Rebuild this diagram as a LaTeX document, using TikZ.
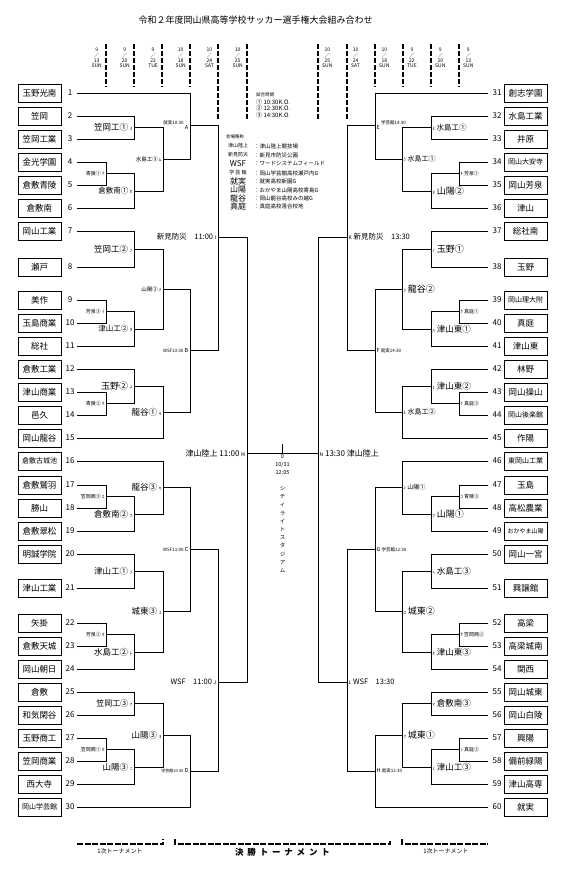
\documentclass[tikz,border=0pt]{standalone}
\usepackage{fontspec}
\setmainfont{Noto Sans CJK JP}
\newfontfamily\widefont[LetterSpace=45]{Noto Sans CJK JP}
\usetikzlibrary{positioning}

\newcommand\fsz[1]{\fontsize{#1}{#1}\selectfont}
\newcommand\mlet[1]{{\fsz{4.5}#1}}

\tikzset{
  team/.style={draw, line width=1pt, minimum width=43pt, minimum height=18pt, inner sep=0pt, font=\fsz{8.5}},
  num/.style={inner sep=0pt, font=\fsz{8}},
  bl/.style={line width=0.9pt},
  hdash/.style={line width=1.3pt, dash pattern=on 5pt off 2pt},
  bdash/.style={line width=1.2pt, dash pattern=on 6pt off 1.5pt},
  date/.style={inner sep=0pt, align=center, font=\fontsize{5}{5.3}\selectfont},
  labl/.style={anchor=east, inner sep=1.5pt},
  labr/.style={anchor=west, inner sep=1.5pt},
}

\begin{document}
\begin{tikzpicture}[x=1pt, y=-1pt]
\useasboundingbox (0,0) rectangle (575,875);

% Title
\node[font=\fsz{9}] (title) at (255.5,20) {令和２年度岡山県高等学校サッカー選手権大会組み合わせ};

% Date columns
\foreach \xx/\ye/\dt in {106/87/{9\\／\\13\\SUN}, 134/87/{9\\／\\20\\SUN}, 162/87/{9\\／\\22\\TUE},
    190/87/{10\\／\\18\\SUN}, 218/119/{10\\／\\24\\SAT}, 247/119/{10\\／\\25\\SUN}}{
  \draw[hdash] (\xx,44) -- (\xx,\ye);
  \node[date, anchor=east] (dl\xx) at (\xx-4,58) {\dt};
}
\foreach \xx/\ye/\dt in {318/119/{10\\／\\25\\SUN}, 347/119/{10\\／\\24\\SAT}, 375/87/{10\\／\\18\\SUN},
    403/87/{9\\／\\22\\TUE}, 431/87/{9\\／\\20\\SUN}, 459/87/{9\\／\\13\\SUN}}{
  \draw[hdash] (\xx,44) -- (\xx,\ye);
  \node[date, anchor=west] (dr\xx) at (\xx+4,58) {\dt};
}

% Teams, left
\foreach \n/\s/\y in {1/玉野光南/93, 2/笠岡/116, 3/笠岡工業/139, 4/金光学園/162, 5/倉敷青陵/185,
    6/倉敷南/208, 7/岡山工業/231, 8/瀬戸/267, 9/美作/300, 10/玉島商業/323, 11/総社/346,
    12/倉敷工業/369, 13/津山商業/392, 14/邑久/415, 15/岡山龍谷/438, 16/{\fsz{7}倉敷古城池}/461,
    17/倉敷鷲羽/485, 18/勝山/508, 19/倉敷翠松/531, 20/明誠学院/554, 21/津山工業/588,
    22/矢掛/623, 23/倉敷天城/646, 24/岡山朝日/669, 25/倉敷/692, 26/和気閑谷/715,
    27/玉野商工/738, 28/笠岡商業/761, 29/西大寺/784, 30/{\fsz{7}岡山学芸館}/807}{
  \node[team] (tb\n) at (39.5,\y) {\s};
  \node[num] (tn\n) at (70,\y) {\n};
  \coordinate (t\n) at (77,\y);
}

% Teams, right
\foreach \n/\s/\y in {31/創志学園/93, 32/水島工業/116, 33/井原/139, 34/{\fsz{7}岡山大安寺}/162,
    35/岡山芳泉/185, 36/津山/208, 37/総社南/231, 38/玉野/267, 39/{\fsz{7}岡山理大附}/300,
    40/真庭/323, 41/津山東/346, 42/林野/369, 43/岡山操山/392, 44/{\fsz{7}岡山後楽館}/415,
    45/作陽/438, 46/{\fsz{7}東岡山工業}/461, 47/玉島/485, 48/高松農業/508,
    49/{\fsz{6}おかやま山陽}/531, 50/岡山一宮/554, 51/興譲館/588, 52/高梁/623,
    53/高梁城南/646, 54/関西/669, 55/岡山城東/692, 56/岡山白陵/715, 57/興陽/738,
    58/備前緑陽/761, 59/津山高専/784, 60/就実/807}{
  \node[team] (tb\n) at (525.5,\y) {\s};
  \node[num] (tn\n) at (497,\y) {\n};
  \coordinate (t\n) at (488,\y);
}

% Match points, left
\coordinate (l1a) at (106,173.5);
\coordinate (l1b) at (106,311.5);
\coordinate (l1c) at (106,403.5);
\coordinate (l1d) at (106,496.5);
\coordinate (l1e) at (106,634.5);
\coordinate (l1f) at (106,749.5);
\coordinate (l2a) at (134,127.5);
\coordinate (l2b) at (134,191);
\coordinate (l2c) at (134,249);
\coordinate (l2d) at (134,329);
\coordinate (l2e) at (134,386);
\coordinate (l2f) at (134,514);
\coordinate (l2g) at (134,571);
\coordinate (l2h) at (134,652);
\coordinate (l2i) at (134,703.5);
\coordinate (l2j) at (134,767);
\coordinate (l3a) at (163,159);
\coordinate (l3b) at (163,289);
\coordinate (l3c) at (163,412);
\coordinate (l3d) at (163,487.5);
\coordinate (l3e) at (163,611.5);
\coordinate (l3f) at (163,735);
\coordinate (qA) at (190,125);
\coordinate (qB) at (190,350.5);
\coordinate (qC) at (190,549.5);
\coordinate (qD) at (190,771);
\coordinate (sI) at (218,237);
\coordinate (sJ) at (218,682);
\coordinate (fM) at (247,453);

% Match points, right
\coordinate (r1a) at (459,173.5);
\coordinate (r1b) at (459,311.5);
\coordinate (r1c) at (459,403.5);
\coordinate (r1d) at (459,496.5);
\coordinate (r1e) at (459,634.5);
\coordinate (r1f) at (459,749.5);
\coordinate (r2a) at (431,127.5);
\coordinate (r2b) at (431,191);
\coordinate (r2c) at (431,249);
\coordinate (r2d) at (431,329);
\coordinate (r2e) at (431,386);
\coordinate (r2f) at (431,514);
\coordinate (r2g) at (431,571);
\coordinate (r2h) at (431,652);
\coordinate (r2i) at (431,703.5);
\coordinate (r2j) at (431,767);
\coordinate (r3a) at (402,159);
\coordinate (r3b) at (402,289);
\coordinate (r3c) at (402,412);
\coordinate (r3d) at (402,487.5);
\coordinate (r3e) at (402,611.5);
\coordinate (r3f) at (402,735);
\coordinate (qE) at (375,125);
\coordinate (qF) at (375,350.5);
\coordinate (qG) at (375,549.5);
\coordinate (qH) at (375,771);
\coordinate (sK) at (347,237);
\coordinate (sL) at (347,682);
\coordinate (fN) at (318,453);

% Final
\coordinate (fin) at (282.5,453);
\coordinate (fintop) at (282.5,444);

% Bracket lines
\foreach \p/\q in {t4/l1a, t5/l1a, t9/l1b, t10/l1b, t13/l1c, t14/l1c, t17/l1d, t18/l1d,
    t22/l1e, t23/l1e, t27/l1f, t28/l1f,
    t2/l2a, t3/l2a, l1a/l2b, t6/l2b, t7/l2c, t8/l2c, l1b/l2d, t11/l2d, t12/l2e, l1c/l2e,
    l1d/l2f, t19/l2f, t20/l2g, t21/l2g, l1e/l2h, t24/l2h, t25/l2i, t26/l2i, l1f/l2j, t29/l2j,
    l2a/l3a, l2b/l3a, l2c/l3b, l2d/l3b, l2e/l3c, t15/l3c, t16/l3d, l2f/l3d, l2g/l3e, l2h/l3e,
    l2i/l3f, l2j/l3f,
    t1/qA, l3a/qA, l3b/qB, l3c/qB, l3d/qC, l3e/qC, l3f/qD, t30/qD,
    qA/sI, qB/sI, qC/sJ, qD/sJ, sI/fM, sJ/fM, fM/fin}{
  \draw[bl] (\p) -| (\q);
}
\foreach \p/\q in {t34/r1a, t35/r1a, t39/r1b, t40/r1b, t43/r1c, t44/r1c, t47/r1d, t48/r1d,
    t52/r1e, t53/r1e, t57/r1f, t58/r1f,
    t32/r2a, t33/r2a, r1a/r2b, t36/r2b, t37/r2c, t38/r2c, r1b/r2d, t41/r2d, t42/r2e, r1c/r2e,
    r1d/r2f, t49/r2f, t50/r2g, t51/r2g, r1e/r2h, t54/r2h, t55/r2i, t56/r2i, r1f/r2j, t59/r2j,
    r2a/r3a, r2b/r3a, r2c/r3b, r2d/r3b, r2e/r3c, t45/r3c, t46/r3d, r2f/r3d, r2g/r3e, r2h/r3e,
    r2i/r3f, r2j/r3f,
    t31/qE, r3a/qE, r3b/qF, r3c/qF, r3d/qG, r3e/qG, r3f/qH, t60/qH,
    qE/sK, qF/sK, qG/sL, qH/sL, sK/fN, sL/fN, fN/fin}{
  \draw[bl] (\p) -| (\q);
}
\draw[bl] (fin) -- (fintop);

% Match labels, left
\foreach \m/\s/\k in {l1a/青陵①/ｱ, l1b/芳泉③/ｲ, l1c/青陵②/ｳ, l1d/笠岡商③/ｴ, l1e/芳泉②/ｵ, l1f/笠岡商①/ｶ}{
  \node[labl, font=\fsz{5}] (n\m) at (\m) {\s\ \mlet{\k}};
}
\foreach \m/\f/\s/\k in {l2a/8.5/笠岡工①/ｽ, l2b/7.5/倉敷南①/ｾ, l2c/8.5/笠岡工②/ｿ, l2d/7.5/津山工②/ﾀ,
    l2e/9/玉野②/ﾁ, l2f/8.5/倉敷南②/ﾂ, l2g/8.5/津山工①/ﾃ, l2h/8.5/水島工②/ﾄ, l2i/8/笠岡工③/ﾅ,
    l2j/8.5/山陽③/ﾆ, l3a/5.5/水島工③/ﾑ, l3b/5.5/山陽②/ﾒ, l3c/8.5/龍谷①/ﾓ, l3d/8.5/龍谷③/ﾔ,
    l3e/8.5/城東③/ﾕ, l3f/8.5/山陽③/ﾖ}{
  \node[labl, font=\fsz{\f}] (n\m) at (\m) {\s\ \mlet{\k}};
}
\node[labl, font=\fsz{5.5}] (nqA) at (qA) {\raisebox{5pt}{\fsz{4.5}就実10:30} A};
\node[labl, font=\fsz{5.5}] (nqB) at (qB) {{\fsz{4.5}WSF13:30} B};
\node[labl, font=\fsz{5.5}] (nqC) at (qC) {{\fsz{4.5}WSF11:00} C};
\node[labl, font=\fsz{5.5}] (nqD) at (qD) {{\fsz{4}学芸館10:30} D};
\node[labl, font=\fsz{7.5}] (nsI) at (sI) {新見防災\quad 11:00 {\fsz{5}I}};
\node[labl, font=\fsz{7.5}] (nsJ) at (sJ) {WSF\quad 11:00 {\fsz{5}J}};
\node[labl, font=\fsz{8}] (nfM) at (fM) {津山陸上\ 11:00 {\fsz{5}M}};

% Match labels, right
\foreach \m/\s/\k in {r1a/芳泉①/ｷ, r1b/真庭①/ｸ, r1c/真庭③/ｹ, r1d/青陵③/ｺ, r1e/笠岡商②/ｻ, r1f/真庭②/ｼ}{
  \node[labr, font=\fsz{5}] (n\m) at (\m) {\mlet{\k}\ \s};
}
\foreach \m/\f/\s/\k in {r2a/7.5/水島工①/ﾇ, r2b/9/山陽②/ﾈ, r2c/9/玉野①/ﾉ, r2d/8.5/津山東①/ﾊ,
    r2e/8.5/津山東②/ﾋ, r2f/9/山陽①/ﾌ, r2g/8.5/水島工③/ﾍ, r2h/8.5/津山東③/ﾎ, r2i/8.5/倉敷南③/ﾏ,
    r2j/8.5/津山工③/ﾐ, r3a/7/水島工①/ﾗ, r3b/9/龍谷②/ﾘ, r3c/7/水島工②/ﾙ, r3d/6/山陽①/ﾚ,
    r3e/9/城東②/ﾛ, r3f/9/城東①/ﾜ}{
  \node[labr, font=\fsz{\f}] (n\m) at (\m) {\mlet{\k}\ \s};
}
\node[labr, font=\fsz{5.5}] (nqE) at (qE) {E \raisebox{5pt}{\fsz{4.5}学芸館14:30}};
\node[labr, font=\fsz{5.5}] (nqF) at (qF) {F {\fsz{4.5}就実14:30}};
\node[labr, font=\fsz{5.5}] (nqG) at (qG) {G {\fsz{4.5}学芸館12:30}};
\node[labr, font=\fsz{5.5}] (nqH) at (qH) {H {\fsz{4.5}就実12:30}};
\node[labr, font=\fsz{7.5}] (nsK) at (sK) {{\fsz{5}K} 新見防災\quad 13:30};
\node[labr, font=\fsz{7.5}] (nsL) at (sL) {{\fsz{5}L} WSF\quad 13:30};
\node[labr, font=\fsz{8}] (nfN) at (fN) {{\fsz{5}N} 13:30\ 津山陸上};

% Final
\node[anchor=north, inner sep=0pt, align=center, font=\fontsize{5.5}{8}\selectfont] (finlab) at (282.5,454) {0\\10/31\\12:05};
\node[anchor=north, inner sep=0pt, align=center, font=\fontsize{5.5}{8.2}\selectfont] (stad) at (282.5,486)
  {シ\\テ\\ィ\\ラ\\イ\\ト\\ス\\タ\\ジ\\ア\\ム};

% Match times and venues
\node[anchor=west, inner sep=0pt, font=\fsz{4.5}] (lgt) at (256,95) {試合時間};
\node[anchor=west, inner sep=0pt, font=\fsz{6}] (lgt1) at (256,102) {① 10:30K.O.};
\node[anchor=west, inner sep=0pt, font=\fsz{6}] (lgt2) at (256,108.5) {② 12:30K.O.};
\node[anchor=west, inner sep=0pt, font=\fsz{6}] (lgt3) at (256,115) {③ 14:30K.O.};
\node[anchor=west, inner sep=0pt, font=\fsz{4.5}] (lgv) at (226,137) {会場略称};
\foreach \yy/\ab/\nm in {146/{\fsz{5}津山陸上}/津山陸上競技場, 155/{\fsz{5}新見防災}/新見市防災公園,
    164/{\fsz{8}WSF}/ワードシステムフィールド, 173/{\fsz{5}学 芸 館}/岡山学芸館高校瀬戸内G,
    181/{\fsz{8}就実}/就実高校新園G, 190/{\fsz{8}山陽}/おかやま山陽高校寄島G,
    198/{\fsz{8}龍谷}/岡山龍谷高校みの越G, 206/{\fsz{8}真庭}/真庭高校落合校地}{
  \node[inner sep=0pt] (va\yy) at (238,\yy) {\ab};
  \node[anchor=west, inner sep=0pt, font=\fsz{5.5}] (vn\yy) at (254,\yy) {：\nm};
}

% Tournament stages
\draw[bdash] (77,844) -- (163,844) -- (163,839);
\node[font=\fsz{6}] (st1) at (120,851) {1次トーナメント};
\draw[bdash] (175,839) -- (175,844) -- (390,844) -- (390,839);
\node[font=\widefont\bfseries\fsz{8.5}] (st2) at (282.5,852) {決勝トーナメント};
\draw[bdash] (402,839) -- (402,844) -- (488,844);
\node[font=\fsz{6}] (st3) at (446,851) {1次トーナメント};

\end{tikzpicture}
\end{document}
